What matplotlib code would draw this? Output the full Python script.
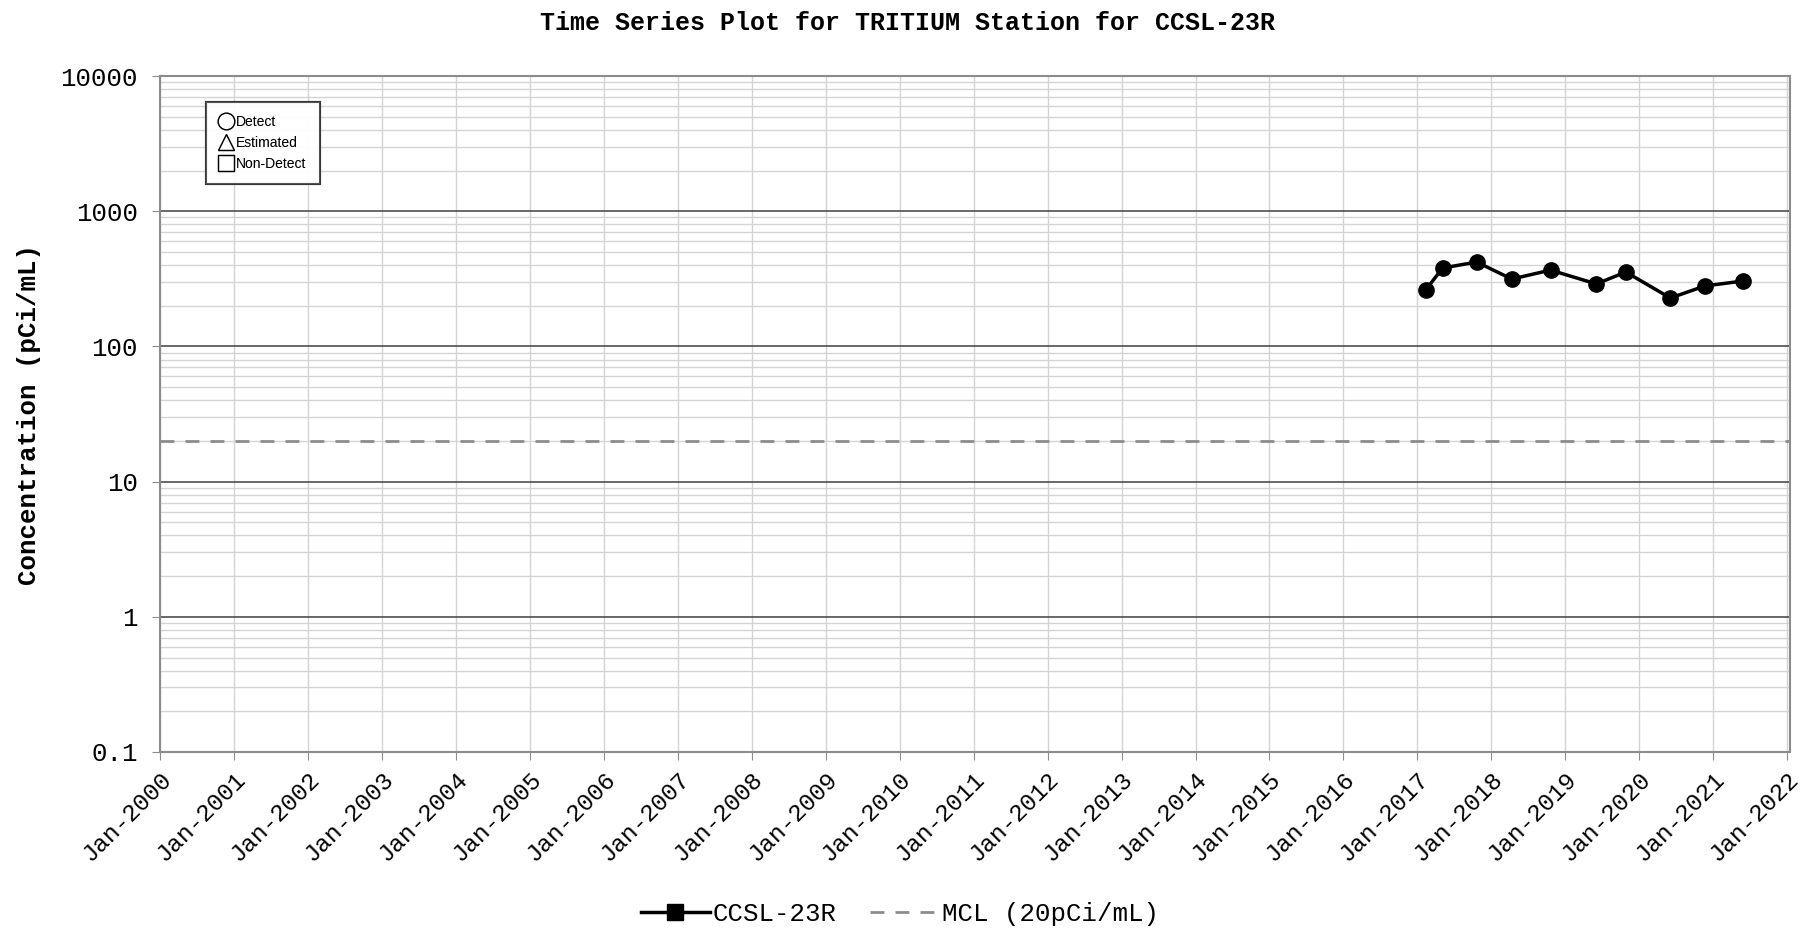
import numpy as np
import pandas as pd
import matplotlib
matplotlib.use('Agg')
import matplotlib.pyplot as plt
from matplotlib.lines import Line2D
from matplotlib.ticker import FixedLocator, LogLocator, NullFormatter

# дані станції CCSL-23R (тритій)
sample_dates = ['2017-02-10', '2017-05-05', '2017-10-20', '2018-04-12', '2018-10-20',
                '2019-06-03', '2019-10-27', '2020-06-03', '2020-11-20', '2021-05-30']
tritium = [261, 380, 421, 315, 367, 290, 355, 228, 280, 305]
mcl_value = 20
y_ticks = [0.1, 1, 10, 100, 1000, 10000]
y_tick_labels = ['0.1', '1', '10', '100', '1000', '10000']
years = list(range(2000, 2023))

mono = 'Liberation Mono'
plt.rcParams['font.family'] = [mono, 'DejaVu Sans']
fs = 18.5

fig = plt.figure(figsize=(18.14, 9.33), dpi=100)
ax = fig.add_axes([0.0882, 0.194, 0.8986, 0.7245])

x = pd.to_datetime(sample_dates)
ax.plot(x, tritium, color='black', lw=2.5, marker='o', ms=11, zorder=5)
ax.axhline(mcl_value, color='#8c8c8c', lw=2, dashes=(5, 4), zorder=4)

ax.set_yscale('log')
ax.set_ylim(0.1, 10000)
ax.set_xlim(pd.Timestamp('2000-01-01'), pd.Timestamp('2022-01-15'))

ax.yaxis.set_major_locator(FixedLocator(y_ticks))
ax.set_yticklabels(y_tick_labels)
ax.yaxis.set_minor_locator(LogLocator(base=10, subs=np.arange(2, 10)))
ax.yaxis.set_minor_formatter(NullFormatter())

year_ticks = [pd.Timestamp(f'{y}-01-01') for y in years]
ax.set_xticks(year_ticks)
ax.set_xticklabels([f'Jan-{y}' for y in years], rotation=45, ha='right',
                   rotation_mode='anchor', fontsize=17.5)

ax.grid(which='major', axis='y', color='#404040', lw=1.1)
ax.grid(which='minor', axis='y', color='#d4d4d4', lw=1)
ax.grid(which='major', axis='x', color='#d4d4d4', lw=1)
ax.set_axisbelow(True)

for s in ax.spines.values():
    s.set_color('#8c8c8c')
    s.set_linewidth(1.5)

ax.tick_params(axis='y', which='major', labelsize=fs, length=6, color='#8c8c8c', pad=10)
ax.tick_params(axis='y', which='minor', length=0)
ax.tick_params(axis='x', length=6, color='#8c8c8c', pad=5)

ax.set_ylabel('Concentration (pCi/mL)', fontsize=fs, fontweight='bold', labelpad=14)
fig.suptitle('Time Series Plot for TRITIUM Station for CCSL-23R', fontsize=18,
             fontweight='bold', y=0.988)

# легенда типів проб (зліва вгорі)
sym = [Line2D([], [], ls='none', marker=m, mfc='none', mec='black', ms=12, mew=1)
       for m in ['o', '^', 's']]
leg1 = ax.legend(sym, ['Detect', 'Estimated', 'Non-Detect'], loc='upper left',
                 bbox_to_anchor=(0.028, 0.962), prop={'family': 'Liberation Sans', 'size': 10},
                 frameon=True, fancybox=False, edgecolor='#303030', handlelength=1.1,
                 handletextpad=0.15, labelspacing=0.5, borderpad=0.95, borderaxespad=0)
leg1.get_frame().set_linewidth(1.5)
ax.add_artist(leg1)

# нижня легенда
h = [Line2D([], [], color='black', lw=2.5, marker='s', ms=11),
     Line2D([], [], color='#8c8c8c', lw=2, dashes=(5, 4))]
fig.legend(h, ['CCSL-23R', 'MCL (20pCi/mL)'], loc='center', bbox_to_anchor=(0.496, 0.02),
           ncol=2, frameon=False, fontsize=fs, handlelength=2.7, handletextpad=0.1,
           columnspacing=1.3)

fig.savefig('out.png', dpi=100)
